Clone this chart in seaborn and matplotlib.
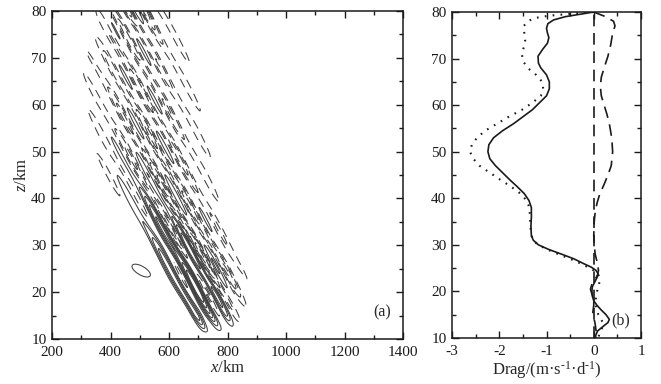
import numpy as np
import pandas as pd
import matplotlib
matplotlib.use("Agg")
import matplotlib.pyplot as plt
import seaborn as sns

# ---- panel (b): drag profiles (z in km, drag in m/s/d)
solid_z = [80, 79.5, 79, 78.3, 77.5, 76.5, 75.5, 74.5, 73.3, 72, 70.5, 69, 68, 66.5, 65, 63.5, 62,
           60.5, 59, 57.5, 56, 54.5, 53, 51.5, 50, 48.5, 47, 45.5, 44, 42.5, 41, 39.5, 38, 36, 34,
           32, 31, 30, 29, 28, 27, 26, 25.2, 24.5, 23.8, 23, 22, 21, 20, 19, 18, 17, 16, 15, 14,
           13.3, 12.5, 11.5, 10.5, 10]
solid_drag = [0.0, -0.3, -0.6, -0.85, -0.97, -1.0, -0.98, -0.95, -0.98, -1.08, -1.18, -1.17, -1.12,
              -1.0, -0.94, -0.94, -1.0, -1.15, -1.3, -1.5, -1.7, -1.93, -2.12, -2.22, -2.24, -2.2,
              -2.08, -1.93, -1.78, -1.62, -1.47, -1.37, -1.32, -1.32, -1.33, -1.32, -1.28, -1.17,
              -0.95, -0.68, -0.42, -0.22, -0.05, 0.05, 0.09, 0.07, 0.02, -0.03, -0.04, -0.03, 0.0,
              0.07, 0.16, 0.26, 0.33, 0.3, 0.2, 0.08, 0.04, 0.04]

dot_z = [80, 79.6, 79.2, 78.7, 78, 77, 75.5, 74, 72.5, 71, 69.5, 68, 66.5, 65, 63.5, 62, 60.5, 59,
         57.5, 56, 54.5, 53, 51.5, 50, 48.5, 47, 45.5, 44, 42.5, 41, 39.5, 38, 36, 34, 32, 31, 30,
         29, 28, 27, 26, 25, 24, 23, 22, 21, 20, 19, 18, 17, 16, 15, 14, 13, 12, 11, 10]
dot_drag = [0.0, -0.5, -0.95, -1.25, -1.4, -1.48, -1.47, -1.45, -1.48, -1.52, -1.5, -1.4, -1.22,
            -1.09, -1.07, -1.12, -1.3, -1.52, -1.8, -2.05, -2.3, -2.47, -2.58, -2.62, -2.55, -2.42,
            -2.2, -1.98, -1.75, -1.55, -1.42, -1.36, -1.35, -1.34, -1.32, -1.28, -1.18, -0.98,
            -0.75, -0.5, -0.28, -0.08, 0.08, 0.12, 0.12, 0.1, 0.07, 0.05, 0.04, 0.04, 0.06, 0.1,
            0.16, 0.2, 0.17, 0.12, 0.1]

dash_z = [80, 79, 78, 77, 75.5, 73, 70.5, 68, 66, 64, 62, 60, 58, 56, 53, 50, 47, 45, 43, 41, 39,
          37, 35, 32, 30, 28, 26, 24.5, 23.5, 22.5, 21.5, 20.5, 19.5, 18.5, 17, 15.5, 14.5, 13,
          11.5, 10]
dash_drag = [0.0, 0.25, 0.42, 0.45, 0.4, 0.36, 0.3, 0.22, 0.16, 0.14, 0.16, 0.22, 0.28, 0.33, 0.38,
             0.4, 0.37, 0.3, 0.22, 0.13, 0.07, 0.03, 0.01, 0.0, 0.01, 0.03, 0.08, 0.1, 0.08, 0.02,
             -0.04, -0.07, -0.04, 0.0, 0.0, -0.02, 0.0, 0.03, 0.05, 0.07]

# ---- panel (a): wave packet description
env_z = [10, 11, 12.5, 15, 20, 25, 30, 35, 40, 50, 60, 70, 76, 80]
env_xc = [740, 740, 735, 730, 720, 700, 660, 625, 590, 540, 510, 490, 490, 480]
env_width = [80, 85, 95, 105, 115, 120, 125, 130, 140, 170, 175, 165, 130, 100]
env_amp = [0.0, 0.2, 1.3, 3.0, 4.2, 4.4, 4.0, 3.4, 3.0, 2.4, 2.1, 1.9, 2.1, 3.0]
# lower-left edge of the packet and positive lobe, along zeta = z + (x - 650) / 11
edge_zeta = [14, 19]
edge_val = [0.0, 1.0]
lobe_zeta = [10, 20, 27, 31, 35, 80]
lobe_val = [1.0, 1.0, 0.9, 0.4, 0.0, 0.0]
lobe_x0, lobe_halfwidth = 660.0, 220.0
bias_base, bias_lobe = -0.6, 1.5
wavelength = 55.0     # km
tilt = 9.0            # km of x per km of z along phase lines
wavelength2 = 85.0
tilt2 = 3.5
mix2 = 0.3
# isolated positive cell near x=500 km, z=25 km
blob_x, blob_z, blob_amp = 505.0, 24.6, 1.6
blob_shear, blob_xw, blob_zw = 15.0, 35.0, 2.0
levels = [-7, -6, -5, -4, -3, -2, -1, 1, 2, 3, 4, 5, 6, 7]

sns.set_theme(style="ticks")
plt.rcParams["font.family"] = ["Liberation Serif", "DejaVu Serif"]
plt.rcParams["mathtext.fontset"] = "custom"
plt.rcParams["mathtext.rm"] = "Liberation Serif"
plt.rcParams["mathtext.it"] = "Liberation Serif:italic"
plt.rcParams["font.size"] = 11.5
plt.rcParams["axes.unicode_minus"] = False

fig = plt.figure(figsize=(6.61, 3.84), dpi=100)
W, H = 661, 384
ax1 = fig.add_axes([52 / W, (H - 339) / H, 351 / W, 328 / H])
ax2 = fig.add_axes([452 / W, (H - 338) / H, 189 / W, 326 / H])

# contour field
x = np.linspace(200, 1400, 601)
z = np.linspace(10, 80, 281)
X, Z = np.meshgrid(x, z)
xc = np.interp(z, env_z, env_xc)[:, None]
sig = np.interp(z, env_z, env_width)[:, None]
amp = np.interp(z, env_z, env_amp)[:, None]
zeta = Z + (X - 650) / 11
edge = np.interp(zeta, edge_zeta, edge_val)
lobe = np.interp(zeta, lobe_zeta, lobe_val) * np.exp(-((X - lobe_x0) / lobe_halfwidth) ** 4)
bias = bias_base + bias_lobe * lobe
carrier = (np.cos(2 * np.pi * (X + tilt * Z) / wavelength)
           + mix2 * np.cos(2 * np.pi * (X + tilt2 * Z) / wavelength2))
field = amp * edge * np.exp(-((X - xc) / sig) ** 2) * (carrier + bias)
u = (X - blob_x) + blob_shear * (Z - blob_z)
v = (Z - blob_z)
field += blob_amp * np.exp(-(u / blob_xw) ** 2 - (v / blob_zw) ** 2)

ax1.contour(X, Z, field, levels=levels, colors="0.25", linewidths=0.75,
            negative_linestyles=(0, (9, 6)))
ax1.set_xlim(200, 1400)
ax1.set_ylim(10, 80)
ax1.set_xticks(np.arange(200, 1401, 200))
ax1.set_yticks(np.arange(10, 81, 10))
ax1.set_xlabel("$x$/km", labelpad=1)
ax1.set_ylabel("$z$/km", labelpad=1)
ax1.text(0.94, 0.08, "(a)", transform=ax1.transAxes, ha="center", va="center")

# profiles
df_s = pd.DataFrame({"z": solid_z, "drag": solid_drag})
df_d = pd.DataFrame({"z": dot_z, "drag": dot_drag})
df_l = pd.DataFrame({"z": dash_z, "drag": dash_drag})
sns.lineplot(data=df_s, x="drag", y="z", sort=False, orient="y", color="k", lw=1.2, ax=ax2)
sns.lineplot(data=df_d, x="drag", y="z", sort=False, orient="y", color="k", lw=1.5,
             linestyle=(0, (0.8, 3)), ax=ax2)
sns.lineplot(data=df_l, x="drag", y="z", sort=False, orient="y", color="k", lw=1.2,
             linestyle=(0, (7, 4)), ax=ax2)
ax2.axvline(0, color="k", lw=1.2, linestyle=(0, (7, 4)))
ax2.set_xlim(-3, 1)
ax2.set_ylim(10, 80)
ax2.set_xticks([-3, -2, -1, 0, 1])
ax2.set_yticks(np.arange(10, 81, 10))
ax2.set_xlabel(r"Drag/(m·s$^{\text{-}1}$·d$^{\text{-}1}$)", labelpad=1)
ax2.set_ylabel("")
ax2.text(0.89, 0.055, "(b)", transform=ax2.transAxes, ha="center", va="center")

for ax in (ax1, ax2):
    ax.minorticks_on()
    ax.tick_params(which="both", direction="in", top=True, right=True, colors="k",
                   labelcolor="k", width=1.0)
    ax.tick_params(which="major", length=5)
    ax.tick_params(which="minor", length=3)
    ax.tick_params(axis="x", which="major", pad=5)
    ax.tick_params(axis="y", which="major", pad=4)
    for s in ax.spines.values():
        s.set_linewidth(1.1)
        s.set_color("k")
ax1.set_xticks(np.arange(300, 1400, 200), minor=True)
ax1.set_yticks(np.arange(15, 80, 10), minor=True)
ax2.set_xticks(np.arange(-2.5, 1, 1), minor=True)
ax2.set_yticks(np.arange(15, 80, 10), minor=True)

fig.savefig("out.png", dpi=100)
